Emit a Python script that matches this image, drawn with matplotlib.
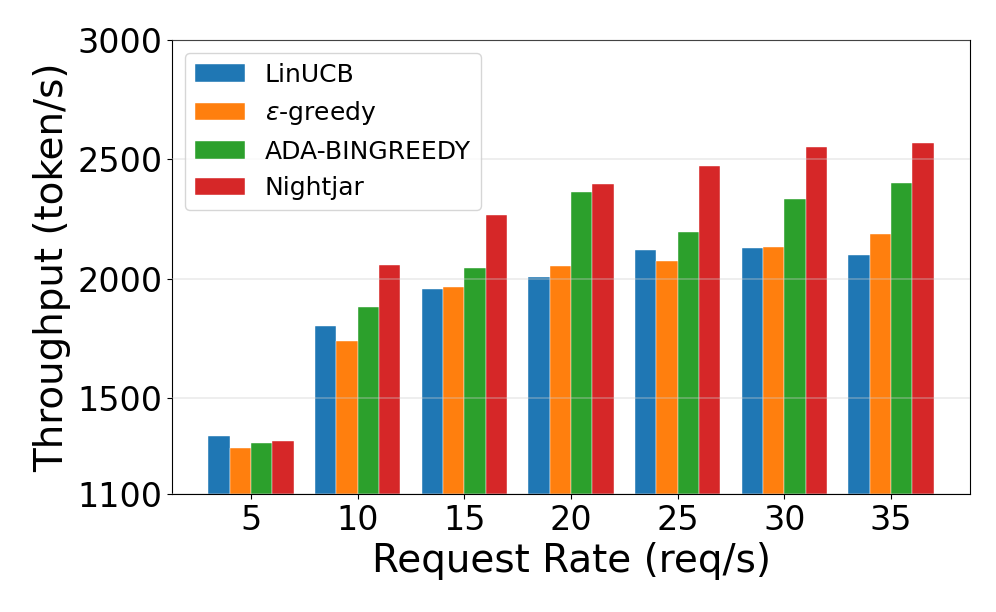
import matplotlib
matplotlib.use("Agg")
import matplotlib.pyplot as plt
import numpy as np

rates = ["5", "10", "15", "20", "25", "30", "35"]
linucb = [1343, 1804, 1958, 2008, 2122, 2129, 2101]
eps_greedy = [1290, 1739, 1965, 2053, 2074, 2133, 2190]
ada_bingreedy = [1312, 1882, 2046, 2362, 2196, 2333, 2400]
nightjar = [1323, 2058, 2267, 2397, 2474, 2554, 2571]
series_names = ["LinUCB", r"$\epsilon$-greedy", "ADA-BINGREEDY", "Nightjar"]
colors = ["#1f77b4", "#ff7f0e", "#2ca02c", "#d62728"]
yticks = [1100, 1500, 2000, 2500, 3000]

fig = plt.figure(figsize=(9.96, 6.12), dpi=100)
ax = fig.add_axes([0.1727, 0.193, 0.8013, 0.7416])

x = np.arange(len(rates))
w = 0.2
for i, (vals, name, c) in enumerate(zip([linucb, eps_greedy, ada_bingreedy, nightjar], series_names, colors)):
    ax.bar(x + (i - 1.5) * w, vals, w, color=c, label=name, edgecolor="white", linewidth=0.3)

ax.set_ylim(1100, 3000)
ax.set_yticks(yticks)
ax.set_xticks(x)
ax.set_xticklabels(rates)
ax.tick_params(axis="both", labelsize=24)
ax.set_xlabel("Request Rate (req/s)", fontsize=28)
ax.set_ylabel("Throughput (token/s)", fontsize=28)
ax.yaxis.grid(True, color="#cccccc", alpha=0.4, linewidth=1.2)
ax.set_axisbelow(False)
ax.legend(loc="upper left", fontsize=18)

fig.savefig("out.png", dpi=100)
